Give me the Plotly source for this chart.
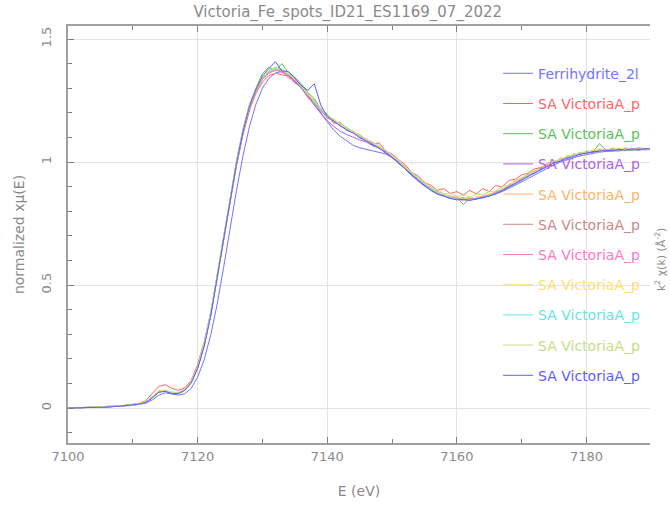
import plotly.graph_objects as go

# Energy grid (eV)
energy = [7100, 7102, 7104, 7106, 7108] + list(range(7110, 7191))

# Normalized absorbance for each spectrum
ferrihydrite = [
    0.000, 0.001, 0.002, 0.004, 0.007, 0.011, 0.014, 0.020, 0.033, 0.052,
    0.062, 0.058, 0.053, 0.058, 0.080, 0.125, 0.195, 0.295, 0.420, 0.570,
    0.730, 0.885, 1.025, 1.145, 1.235, 1.300, 1.340, 1.362, 1.368, 1.355,
    1.330, 1.300, 1.265, 1.230, 1.195, 1.160, 1.130, 1.105, 1.085, 1.068,
    1.058, 1.052, 1.047, 1.042, 1.033, 1.018, 0.998, 0.975, 0.952, 0.930,
    0.910, 0.892, 0.878, 0.867, 0.860, 0.855, 0.852, 0.851, 0.852, 0.856,
    0.862, 0.870, 0.880, 0.892, 0.906, 0.920, 0.935, 0.950, 0.964, 0.977,
    0.989, 1.000, 1.010, 1.018, 1.025, 1.031, 1.036, 1.040, 1.043, 1.045,
    1.047, 1.048, 1.049, 1.050, 1.050, 1.051,
]
spot_red = [
    0.000, 0.002, 0.003, 0.006, 0.009, 0.015, 0.020, 0.030, 0.058, 0.088,
    0.095, 0.080, 0.072, 0.082, 0.112, 0.178, 0.268, 0.385, 0.530, 0.685,
    0.840, 0.985, 1.110, 1.210, 1.280, 1.325, 1.352, 1.360, 1.355, 1.348,
    1.322, 1.305, 1.262, 1.248, 1.205, 1.190, 1.158, 1.162, 1.128, 1.125,
    1.098, 1.094, 1.070, 1.078, 1.045, 1.032, 1.010, 0.990, 0.958, 0.945,
    0.918, 0.905, 0.885, 0.892, 0.872, 0.880, 0.866, 0.885, 0.870, 0.892,
    0.880, 0.905, 0.898, 0.925, 0.930, 0.948, 0.955, 0.972, 0.978, 0.995,
    0.998, 1.015, 1.012, 1.032, 1.030, 1.045, 1.038, 1.050, 1.044, 1.055,
    1.046, 1.058, 1.048, 1.056, 1.050, 1.058,
]
spot_green = [
    0.000, 0.000, 0.003, 0.004, 0.008, 0.012, 0.016, 0.024, 0.042, 0.066,
    0.070, 0.060, 0.060, 0.072, 0.104, 0.168, 0.262, 0.385, 0.540, 0.700,
    0.860, 1.005, 1.135, 1.235, 1.300, 1.360, 1.385, 1.372, 1.400, 1.362,
    1.345, 1.318, 1.282, 1.258, 1.215, 1.195, 1.168, 1.155, 1.128, 1.125,
    1.100, 1.092, 1.068, 1.062, 1.035, 1.025, 0.995, 0.982, 0.948, 0.935,
    0.905, 0.895, 0.868, 0.868, 0.852, 0.856, 0.828, 0.852, 0.848, 0.862,
    0.860, 0.880, 0.884, 0.905, 0.912, 0.935, 0.940, 0.965, 0.968, 0.990,
    0.995, 1.015, 1.015, 1.032, 1.030, 1.045, 1.040, 1.075, 1.048, 1.052,
    1.045, 1.055, 1.048, 1.056, 1.050, 1.054,
]
spot_purple = [
    0.000, 0.001, 0.002, 0.005, 0.008, 0.013, 0.017, 0.024, 0.043, 0.066,
    0.069, 0.060, 0.061, 0.073, 0.104, 0.165, 0.258, 0.380, 0.532, 0.690,
    0.850, 0.998, 1.125, 1.225, 1.292, 1.340, 1.365, 1.375, 1.365, 1.352,
    1.325, 1.302, 1.268, 1.238, 1.200, 1.168, 1.145, 1.125, 1.112, 1.100,
    1.090, 1.082, 1.066, 1.058, 1.036, 1.018, 0.996, 0.972, 0.945, 0.925,
    0.902, 0.888, 0.870, 0.862, 0.852, 0.850, 0.845, 0.848, 0.850, 0.856,
    0.862, 0.874, 0.886, 0.900, 0.914, 0.930, 0.945, 0.960, 0.972, 0.986,
    0.998, 1.008, 1.018, 1.026, 1.034, 1.038, 1.042, 1.046, 1.048, 1.047,
    1.050, 1.049, 1.052, 1.050, 1.053, 1.051,
]
spot_orange = [
    0.000, 0.002, 0.003, 0.006, 0.009, 0.013, 0.018, 0.026, 0.046, 0.069,
    0.072, 0.064, 0.064, 0.077, 0.108, 0.166, 0.255, 0.376, 0.528, 0.686,
    0.845, 0.992, 1.120, 1.220, 1.288, 1.335, 1.362, 1.378, 1.368, 1.355,
    1.338, 1.302, 1.278, 1.240, 1.220, 1.185, 1.175, 1.152, 1.142, 1.122,
    1.112, 1.092, 1.082, 1.060, 1.048, 1.022, 1.008, 0.978, 0.958, 0.932,
    0.915, 0.892, 0.880, 0.865, 0.862, 0.852, 0.856, 0.850, 0.858, 0.858,
    0.870, 0.876, 0.892, 0.900, 0.922, 0.930, 0.952, 0.958, 0.980, 0.985,
    1.005, 1.008, 1.025, 1.026, 1.040, 1.036, 1.048, 1.044, 1.052, 1.046,
    1.054, 1.048, 1.055, 1.049, 1.056, 1.050,
]
spot_brown = [
    0.000, 0.001, 0.003, 0.005, 0.008, 0.012, 0.017, 0.025, 0.044, 0.067,
    0.070, 0.062, 0.062, 0.074, 0.105, 0.162, 0.252, 0.372, 0.522, 0.682,
    0.842, 0.990, 1.118, 1.218, 1.288, 1.338, 1.368, 1.380, 1.372, 1.350,
    1.335, 1.298, 1.272, 1.236, 1.214, 1.178, 1.170, 1.146, 1.138, 1.118,
    1.108, 1.088, 1.078, 1.056, 1.044, 1.018, 1.004, 0.974, 0.955, 0.928,
    0.912, 0.888, 0.878, 0.862, 0.860, 0.850, 0.854, 0.848, 0.856, 0.856,
    0.868, 0.874, 0.890, 0.898, 0.920, 0.928, 0.950, 0.956, 0.978, 0.984,
    1.002, 1.006, 1.022, 1.024, 1.038, 1.035, 1.046, 1.042, 1.050, 1.045,
    1.052, 1.046, 1.053, 1.048, 1.054, 1.049,
]
spot_pink = [
    0.000, 0.001, 0.002, 0.005, 0.008, 0.013, 0.017, 0.025, 0.045, 0.068,
    0.072, 0.063, 0.062, 0.074, 0.106, 0.165, 0.256, 0.378, 0.530, 0.688,
    0.848, 0.995, 1.122, 1.222, 1.290, 1.338, 1.362, 1.372, 1.370, 1.342,
    1.332, 1.310, 1.268, 1.252, 1.206, 1.190, 1.160, 1.158, 1.130, 1.128,
    1.098, 1.095, 1.070, 1.068, 1.038, 1.030, 0.998, 0.985, 0.950, 0.938,
    0.908, 0.898, 0.872, 0.870, 0.855, 0.858, 0.848, 0.855, 0.852, 0.862,
    0.864, 0.880, 0.888, 0.906, 0.915, 0.936, 0.944, 0.964, 0.970, 0.990,
    0.996, 1.014, 1.016, 1.030, 1.032, 1.044, 1.040, 1.052, 1.046, 1.056,
    1.048, 1.056, 1.050, 1.058, 1.052, 1.056,
]
spot_yellow = [
    0.000, 0.002, 0.003, 0.005, 0.009, 0.013, 0.018, 0.026, 0.046, 0.070,
    0.073, 0.064, 0.063, 0.075, 0.107, 0.168, 0.260, 0.383, 0.536, 0.695,
    0.855, 1.000, 1.128, 1.228, 1.295, 1.345, 1.372, 1.380, 1.375, 1.360,
    1.336, 1.312, 1.274, 1.250, 1.212, 1.192, 1.165, 1.156, 1.134, 1.126,
    1.104, 1.096, 1.074, 1.066, 1.042, 1.028, 1.002, 0.984, 0.954, 0.936,
    0.912, 0.898, 0.876, 0.870, 0.858, 0.858, 0.852, 0.856, 0.856, 0.864,
    0.868, 0.882, 0.890, 0.908, 0.918, 0.938, 0.946, 0.966, 0.972, 0.992,
    0.998, 1.016, 1.018, 1.032, 1.034, 1.046, 1.042, 1.054, 1.048, 1.058,
    1.050, 1.058, 1.052, 1.060, 1.054, 1.058,
]
spot_cyan = [
    0.000, 0.001, 0.003, 0.005, 0.008, 0.012, 0.016, 0.024, 0.043, 0.066,
    0.069, 0.061, 0.061, 0.073, 0.103, 0.163, 0.254, 0.375, 0.528, 0.688,
    0.848, 0.996, 1.124, 1.224, 1.292, 1.342, 1.370, 1.386, 1.372, 1.356,
    1.340, 1.306, 1.276, 1.244, 1.216, 1.184, 1.166, 1.150, 1.136, 1.120,
    1.106, 1.090, 1.076, 1.060, 1.044, 1.022, 1.002, 0.978, 0.952, 0.930,
    0.910, 0.890, 0.876, 0.862, 0.856, 0.848, 0.850, 0.845, 0.852, 0.852,
    0.864, 0.870, 0.886, 0.894, 0.914, 0.926, 0.946, 0.954, 0.974, 0.982,
    1.000, 1.004, 1.020, 1.022, 1.036, 1.034, 1.044, 1.040, 1.050, 1.044,
    1.052, 1.046, 1.054, 1.048, 1.055, 1.050,
]
spot_lime = [
    0.000, 0.002, 0.003, 0.006, 0.009, 0.013, 0.017, 0.025, 0.045, 0.068,
    0.071, 0.062, 0.062, 0.074, 0.105, 0.166, 0.258, 0.380, 0.534, 0.692,
    0.852, 0.998, 1.126, 1.226, 1.294, 1.342, 1.368, 1.378, 1.380, 1.358,
    1.340, 1.308, 1.280, 1.246, 1.222, 1.188, 1.172, 1.150, 1.140, 1.118,
    1.110, 1.088, 1.080, 1.058, 1.050, 1.020, 1.010, 0.976, 0.962, 0.935,
    0.922, 0.895, 0.888, 0.870, 0.872, 0.860, 0.866, 0.858, 0.870, 0.866,
    0.880, 0.882, 0.900, 0.906, 0.926, 0.934, 0.954, 0.960, 0.980, 0.984,
    1.004, 1.006, 1.024, 1.024, 1.040, 1.036, 1.048, 1.042, 1.052, 1.046,
    1.054, 1.048, 1.056, 1.050, 1.056, 1.050,
]
spot_blue = [
    0.000, 0.001, 0.002, 0.004, 0.008, 0.012, 0.016, 0.023, 0.041, 0.064,
    0.068, 0.059, 0.059, 0.071, 0.101, 0.160, 0.250, 0.372, 0.525, 0.685,
    0.845, 0.994, 1.124, 1.226, 1.296, 1.350, 1.380, 1.408, 1.370, 1.368,
    1.342, 1.310, 1.292, 1.318, 1.232, 1.185, 1.165, 1.148, 1.130, 1.118,
    1.100, 1.086, 1.072, 1.056, 1.040, 1.018, 0.998, 0.972, 0.948, 0.926,
    0.905, 0.884, 0.870, 0.860, 0.852, 0.846, 0.848, 0.844, 0.850, 0.854,
    0.862, 0.870, 0.884, 0.896, 0.912, 0.926, 0.942, 0.956, 0.970, 0.982,
    0.996, 1.004, 1.016, 1.022, 1.032, 1.036, 1.042, 1.044, 1.048, 1.046,
    1.052, 1.048, 1.054, 1.050, 1.055, 1.052,
]

spectra = [ferrihydrite, spot_red, spot_green, spot_purple, spot_orange,
           spot_brown, spot_pink, spot_yellow, spot_cyan, spot_lime, spot_blue]
labels = ["Ferrihydrite_2l"] + ["SA VictoriaA_p"] * 10
colors = ["#7474ff", "#ff6464", "#5cbf5c", "#b060e8", "#ffb466",
          "#c88888", "#ff78c4", "#ffe070", "#66e4e4", "#c4de84", "#5c5cff"]

title_text = "Victoria_Fe_spots_ID21_ES1169_07_2022"
x_title = "E (eV)"
y_title = "normalized x\u03bc(E)"
right_title = "k<sup>2</sup> \u03c7(k) (\u00c5<sup>-2</sup>)"

FONT = "DejaVu Sans"
GREY = "#8a8a8a"

fig = go.Figure()
for i, (vals, name, col) in enumerate(zip(spectra, labels, colors)):
    fig.add_trace(go.Scatter(
        x=energy, y=vals, mode="lines",
        line=dict(color=col, width=1),
        name=f"<span style='color:{col}'>{name}</span>",
        legendgroup=f"g{i}",
    ))

axis_common = dict(
    showline=True, linecolor="#a0a0a0", linewidth=2,
    ticks="inside", tickcolor="#808080", ticklen=6, tickwidth=1,
    showgrid=True, gridcolor="#e4e4e4", gridwidth=1,
    zeroline=False,
    tickfont=dict(family=FONT, size=13, color=GREY),
)

fig.update_xaxes(
    **axis_common,
    range=[7100, 7189.8], dtick=20, tick0=7100, mirror="ticks",
    minor=dict(dtick=10, ticks="inside", ticklen=4, tickcolor="#808080", showgrid=False),
    title=dict(text=x_title, font=dict(family=FONT, size=14, color=GREY), standoff=24),
)
fig.update_yaxes(
    **axis_common,
    range=[-0.142, 1.553], dtick=0.5, tick0=0, tickangle=-90,
    ticklabelstandoff=10,
    minor=dict(dtick=0.1, ticks="inside", ticklen=4, tickcolor="#808080", showgrid=False),
    title=dict(text=y_title, font=dict(family=FONT, size=14, color=GREY), standoff=11),
)

# Secondary axis caption at the right edge
fig.add_annotation(
    text=right_title, xref="paper", yref="paper", x=1.0, y=0.44,
    xanchor="left", xshift=1, textangle=-90, showarrow=False,
    font=dict(family=FONT, size=11, color=GREY),
)

fig.update_layout(
    width=670, height=508,
    margin=dict(l=68, r=20, t=26, b=65, autoexpand=False),
    paper_bgcolor="white", plot_bgcolor="white",
    title=dict(text=title_text, x=0.519, xref="container", xanchor="center",
               y=0.976, yref="container", yanchor="middle",
               font=dict(family=FONT, size=15, color=GREY)),
    legend=dict(x=0.739, y=0.924, xanchor="left", yanchor="top",
                bgcolor="rgba(0,0,0,0)", borderwidth=0,
                font=dict(family=FONT, size=14), tracegroupgap=9),
    showlegend=True,
)

fig.write_html("out.html")
